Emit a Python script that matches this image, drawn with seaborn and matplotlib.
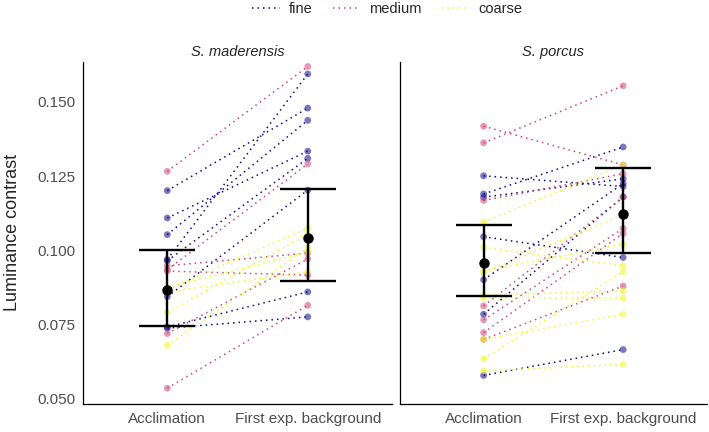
import matplotlib
matplotlib.use("Agg")
import matplotlib.pyplot as plt
from matplotlib.lines import Line2D
import seaborn as sns
import pandas as pd

# values
phases = ["Acclimation", "First exp. background"]
groups = ["fine", "medium", "coarse"]
species = ["S. maderensis", "S. porcus"]

mad_fine_acc = [0.1201, 0.1109, 0.1053, 0.0969, 0.0965, 0.0844, 0.0742, 0.0738]
mad_fine_exp = [0.1479, 0.1334, 0.1438, 0.1594, 0.1310, 0.1203, 0.0860, 0.0776]
mad_medium_acc = [0.1266, 0.0935, 0.0948, 0.0930, 0.0720, 0.0536]
mad_medium_exp = [0.1619, 0.1291, 0.0991, 0.0917, 0.0971, 0.0815]
mad_coarse_acc = [0.0868, 0.0791, 0.0860, 0.0680, 0.0875]
mad_coarse_exp = [0.1075, 0.1055, 0.0928, 0.1008, 0.0995]

por_fine_acc = [0.1251, 0.1190, 0.1179, 0.1046, 0.0901, 0.0785, 0.0579]
por_fine_exp = [0.1215, 0.1348, 0.1241, 0.0976, 0.1225, 0.1180, 0.0666]
por_medium_acc = [0.1418, 0.1362, 0.1168, 0.0813, 0.0766, 0.0723, 0.0700]
por_medium_exp = [0.1288, 0.1554, 0.1258, 0.1180, 0.1074, 0.1057, 0.0880]
por_coarse_acc = [0.1095, 0.1010, 0.0931, 0.0925, 0.0850, 0.0841, 0.0700, 0.0635, 0.0595]
por_coarse_exp = [0.1288, 0.0948, 0.1021, 0.1120, 0.0863, 0.0839, 0.0785, 0.0928, 0.0616]

# mean and interval per phase
mad_mean = [0.0866, 0.1041]
mad_lo = [0.0747, 0.0898]
mad_hi = [0.1002, 0.1205]
por_mean = [0.0957, 0.1123]
por_lo = [0.0847, 0.0991]
por_hi = [0.1084, 0.1278]

palette = {"fine": "#0D0887", "medium": "#CC4678", "coarse": "#F0F921"}

series = {
    ("S. maderensis", "fine"): (mad_fine_acc, mad_fine_exp),
    ("S. maderensis", "medium"): (mad_medium_acc, mad_medium_exp),
    ("S. maderensis", "coarse"): (mad_coarse_acc, mad_coarse_exp),
    ("S. porcus", "fine"): (por_fine_acc, por_fine_exp),
    ("S. porcus", "medium"): (por_medium_acc, por_medium_exp),
    ("S. porcus", "coarse"): (por_coarse_acc, por_coarse_exp),
}
summary = {
    "S. maderensis": (mad_mean, mad_lo, mad_hi),
    "S. porcus": (por_mean, por_lo, por_hi),
}

rows = []
for (sp, grp), (acc, exp) in series.items():
    for i, (a, e) in enumerate(zip(acc, exp)):
        fid = f"{sp}-{grp}-{i}"
        rows.append({"species": sp, "group": grp, "fish": fid, "phase": phases[0], "value": a})
        rows.append({"species": sp, "group": grp, "fish": fid, "phase": phases[1], "value": e})
df = pd.DataFrame(rows)
df["pos"] = df["phase"].map({p: i for i, p in enumerate(phases)})

sns.set_style("white")
plt.rcParams["font.family"] = ["Liberation Sans", "DejaVu Sans"]

fig = plt.figure(figsize=(7.09, 4.32), dpi=100)
ax_l = fig.add_axes([0.117, 0.065, 0.436, 0.792])
ax_r = fig.add_axes([0.564, 0.065, 0.433, 0.792], sharey=ax_l)

dotted = (0, (1, 2.6))
for ax, sp in zip([ax_l, ax_r], species):
    sub = df[df["species"] == sp]
    sns.lineplot(data=sub, x="pos", y="value", hue="group", units="fish",
                 estimator=None, palette=palette, hue_order=groups,
                 linestyle=dotted, linewidth=1.1, legend=False, ax=ax)
    sns.scatterplot(data=sub, x="pos", y="value", hue="group", palette=palette,
                    hue_order=groups, s=24, alpha=0.55, linewidth=0,
                    legend=False, ax=ax, zorder=3)
    m, lo, hi = summary[sp]
    yerr = [[mi - l for mi, l in zip(m, lo)], [h - mi for mi, h in zip(m, hi)]]
    ax.errorbar(range(len(phases)), m, yerr=yerr, fmt="o", color="black",
                markersize=6.5, elinewidth=1.7, capsize=20, capthick=1.7, zorder=5)
    ax.set_title(sp, style="italic", fontsize=10.5, pad=4)
    ax.set_xlim(-0.6, 1.6)
    ax.set_xticks(range(len(phases)))
    ax.set_xticklabels(phases)
    ax.set_xlabel("")
    ax.set_ylabel("")
    for side in ["top", "right"]:
        ax.spines[side].set_visible(False)
    for side in ["left", "bottom"]:
        ax.spines[side].set_color("black")
        ax.spines[side].set_linewidth(0.9)
    ax.tick_params(axis="both", direction="out", length=3.5, width=0.9,
                   color="#333333", labelsize=11, labelcolor="#4D4D4D", pad=2)

ax_l.set_ylim(0.0483, 0.1635)
ax_l.set_yticks([0.050, 0.075, 0.100, 0.125, 0.150])
ax_l.set_yticklabels(["0.050", "0.075", "0.100", "0.125", "0.150"])
ax_l.set_ylabel("Luminance contrast", fontsize=13)
ax_l.yaxis.set_label_coords(-0.2, 0.5)
ax_r.tick_params(axis="y", left=False, labelleft=False)

handles = [Line2D([0], [0], color=palette[g], linestyle=dotted, linewidth=1.1) for g in groups]
fig.legend(handles, groups, loc="center", bbox_to_anchor=(0.546, 0.979), ncol=3,
           frameon=False, fontsize=10.5, handlelength=1.9, handletextpad=0.6,
           columnspacing=1.4)

fig.savefig("out.png", dpi=100)
